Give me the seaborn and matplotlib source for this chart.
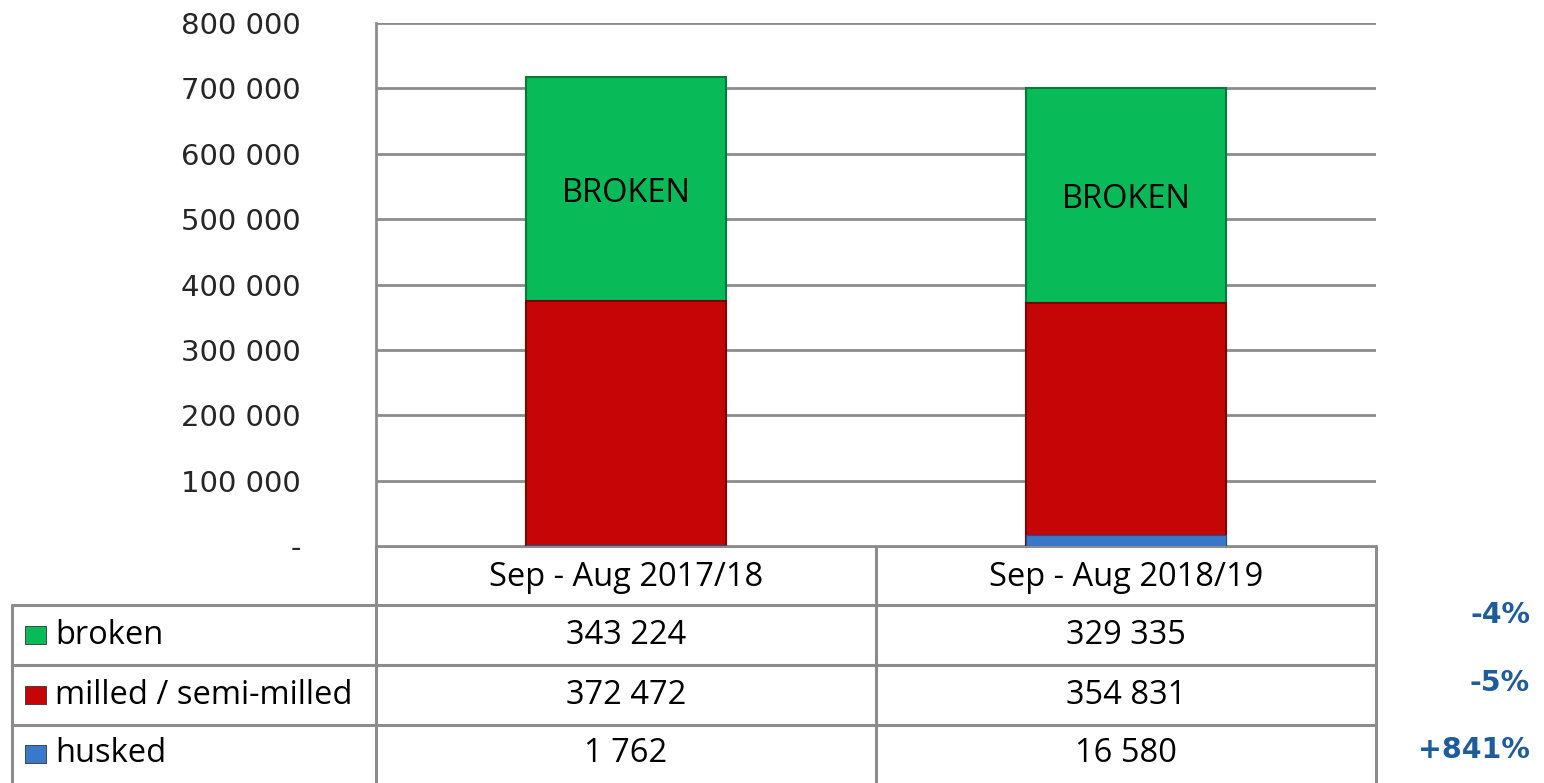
import numpy as np
import pandas as pd
import seaborn as sns
import matplotlib.pyplot as plt
from matplotlib.lines import Line2D
from matplotlib.patches import Rectangle

# data
periods = ['Sep - Aug 2017/18', 'Sep - Aug 2018/19']
broken = [343224, 329335]
milled = [372472, 354831]
husked = [1762, 16580]
series_names = ['broken', 'milled / semi-milled', 'husked']
changes = ['-4%', '-5%', '+841%']

c_green = '#08BB58'
c_red = '#C60606'
c_blue = '#3A78C9'
grid_c = '#8C8C8C'

def fmt(v):
    return f'{v:,}'.replace(',', ' ')

df = pd.DataFrame({'period': periods, 'broken': broken, 'milled': milled, 'husked': husked})
df['top_milled'] = df['husked'] + df['milled']
df['total'] = df['top_milled'] + df['broken']

sns.set_style('white')
plt.rcParams['font.family'] = ['DejaVu Sans']

fig = plt.figure(figsize=(15.44, 7.83), dpi=100)
ax = fig.add_axes([376 / 1544, 1 - 546 / 783, 1000 / 1544, 523 / 783])

# stacked bars drawn as overlapping cumulative totals
sns.barplot(data=df, x='period', y='total', color=c_green, width=0.4, saturation=1,
            edgecolor='#067a3a', linewidth=1.5, ax=ax, zorder=3)
sns.barplot(data=df, x='period', y='top_milled', color=c_red, width=0.4, saturation=1,
            edgecolor='#7a0303', linewidth=1.5, ax=ax, zorder=3)
sns.barplot(data=df, x='period', y='husked', color=c_blue, width=0.4, saturation=1,
            edgecolor='#1f4f8f', linewidth=0.8, ax=ax, zorder=3)

# label in the green segment
for i, row in df.iterrows():
    ax.text(i, row['top_milled'] + row['broken'] / 2, 'BROKEN', ha='center',
            va='center_baseline', fontsize=23.5, family='Open Sans', color='black', zorder=4)

ax.set_xlim(-0.5, 1.5)
ax.set_ylim(0, 800000)
ticks = np.arange(0, 800001, 100000)
ax.set_yticks(ticks)
ax.set_yticklabels(['-'] + [fmt(t) for t in ticks[1:]], fontsize=21)
ax.set_xticks([])
ax.set_xlabel('')
ax.set_ylabel('')
ax.yaxis.grid(True, color=grid_c, linewidth=2)
ax.set_axisbelow(True)
ax.tick_params(axis='y', length=8, width=2, color=grid_c, pad=46)
for side in ['top', 'right', 'bottom']:
    ax.spines[side].set_visible(False)
ax.spines['left'].set_color(grid_c)
ax.spines['left'].set_linewidth(2)

# data table below the plot, in pixel coordinates
tab = fig.add_axes([0, 0, 1, 1], zorder=-1)
tab.set_xlim(0, 1544)
tab.set_ylim(783, 0)
tab.axis('off')

lw = 2.2
rows_y = [546, 605, 665, 725, 783]
tab.add_line(Line2D([376, 1376], [546, 546], color=grid_c, lw=lw))
for y in rows_y[1:-1]:
    tab.add_line(Line2D([12, 1376], [y, y], color=grid_c, lw=lw))
tab.add_line(Line2D([12, 12], [605, 783], color=grid_c, lw=lw))
tab.add_line(Line2D([376, 376], [546, 783], color=grid_c, lw=lw))
tab.add_line(Line2D([876, 876], [546, 783], color=grid_c, lw=lw))
tab.add_line(Line2D([1376, 1376], [546, 783], color=grid_c, lw=lw))

col_x = [626, 1126]
tab_font = dict(fontsize=23.5, family='Open Sans', color='black')
for cx, p in zip(col_x, periods):
    tab.text(cx, 577, p, ha='center', va='center', **tab_font)

row_vals = [broken, milled, husked]
row_cols = [c_green, c_red, c_blue]
chg_y = [615, 683, 750]
for r, (name, vals, col, chg) in enumerate(zip(series_names, row_vals, row_cols, changes)):
    yc = (rows_y[r + 1] + rows_y[r + 2]) / 2
    tab.add_patch(Rectangle((25, yc - 9), 21, 18, facecolor=col, edgecolor='#333333', lw=0.6))
    tab.text(55, yc, name, ha='left', va='center', **tab_font)
    for cx, v in zip(col_x, vals):
        tab.text(cx, yc, fmt(v), ha='center', va='center', **tab_font)
    tab.text(1530, chg_y[r], chg, ha='right', va='center', fontsize=20.5,
             fontweight='bold', color='#1F5C9A')

fig.savefig('out.png', dpi=100)
